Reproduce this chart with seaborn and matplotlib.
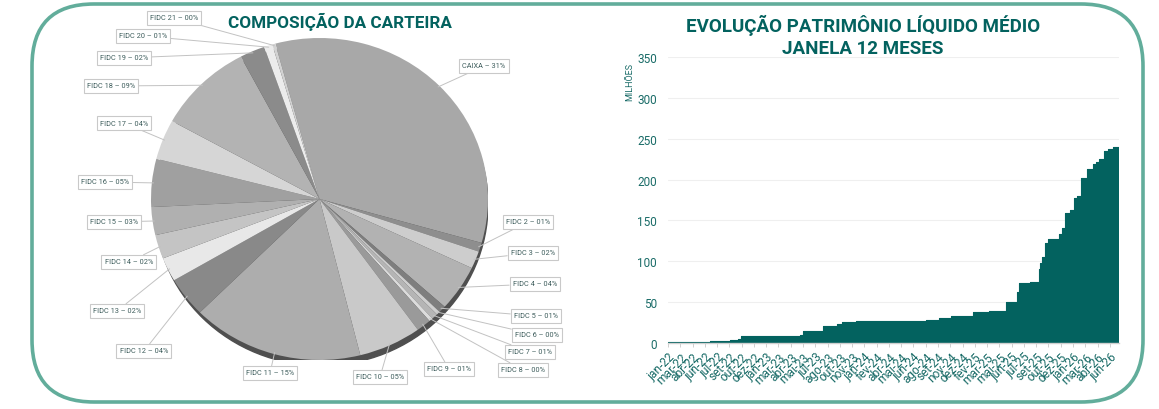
import numpy as np
import pandas as pd
import matplotlib
matplotlib.use("Agg")
import matplotlib.pyplot as plt
from matplotlib.patches import FancyBboxPatch, Ellipse
import seaborn as sns

# ---------------- data ----------------
pie_labels = ["CAIXA – 31%", "FIDC 2 – 01%", "FIDC 3 – 02%", "FIDC 4 – 04%", "FIDC 5 – 01%",
              "FIDC 6 – 00%", "FIDC 7 – 01%", "FIDC 8 – 00%", "FIDC 9 – 01%", "FIDC 10 – 05%",
              "FIDC 11 – 15%", "FIDC 12 – 04%", "FIDC 13 – 02%", "FIDC 14 – 02%", "FIDC 15 – 03%",
              "FIDC 16 – 05%", "FIDC 17 – 04%", "FIDC 18 – 09%", "FIDC 19 – 02%", "FIDC 20 – 01%",
              "FIDC 21 – 00%"]
pie_values = [33.5, 0.9, 1.75, 4.6, 0.7, 0.35, 0.6, 0.35, 1.4, 6.0,
              16.4, 4.0, 2.4, 2.4, 2.8, 4.8, 4.0, 9.2, 2.4, 0.8, 0.3]
pie_colors = ["#a8a8a8", "#8e8e8e", "#cdcdcd", "#b2b2b2", "#7e7e7e",
              "#cfcfcf", "#b5b5b5", "#dcdcdc", "#9a9a9a", "#c9c9c9",
              "#adadad", "#898989", "#e8e8e8", "#c4c4c4", "#b0b0b0",
              "#a0a0a0", "#d6d6d6", "#b3b3b3", "#8b8b8b", "#ececec", "#d2d2d2"]

# months since jan-22 at which the 12-month average PL changes (step start) and its value (millions)
pl_month = [0, 5.0, 7.4, 8.4, 8.8, 13.4, 15.8, 16.2, 18.5, 20.2, 20.8, 22.5, 28.1, 30.9,
            32.5, 33.9, 36.5, 38.4, 40.5, 41.8, 42.0, 43.3, 44.4, 44.6, 44.8, 45.1, 45.5,
            46.8, 47.2, 47.5, 48.1, 48.6, 49.0, 49.5, 50.2, 50.9, 51.3, 51.6, 52.2, 52.7,
            53.3, 54.0]
pl_value = [1.5, 2.2, 3.2, 4.8, 8.0, 8.5, 10.0, 15.0, 20.3, 23.0, 25.5, 26.5, 27.0, 28.0,
            30.5, 33.0, 37.5, 39.5, 50.0, 62.0, 73.5, 75.0, 90.5, 98.5, 105.0, 122.5, 127.5,
            133.5, 141.0, 159.5, 162.5, 177.5, 180.0, 201.5, 213.0, 219.0, 222.0, 225.0,
            235.0, 238.0, 239.5, 239.5]

x_tick_labels = ["jan-22", "mar-22", "abr-22", "jun-22", "jul-22", "set-22", "out-22", "dez-22",
                 "jan-23", "mar-23", "abr-23", "mai-23", "jul-23", "ago-23", "out-23", "nov-23",
                 "jan-24", "fev-24", "abr-24", "mai-24", "jun-24", "ago-24", "set-24", "nov-24",
                 "dez-24", "fev-25", "mar-25", "mai-25", "jun-25", "jul-25", "set-25", "out-25",
                 "dez-25", "jan-26", "mar-26", "abr-26", "jun-26"]
y_ticks = [0, 50, 100, 150, 200, 250, 300, 350]

# ---------------- layout ----------------
W, H = 1159, 410
TEAL = "#03625f"
TEXT_TEAL = "#1a6c68"
FRAME = "#62ad9b"

label_px = [(484, 67), (528, 223), (533, 254), (535, 285), (536, 317), (537, 336), (530, 353),
            (523, 371), (449, 370), (380, 378), (270, 374), (144, 352), (117, 312), (129, 263),
            (114, 223), (105, 183), (124, 124), (111, 87), (124, 59), (143, 37), (174, 19)]

sns.set_style("white")
plt.rcParams["font.family"] = ["Roboto", "DejaVu Sans"]

fig = plt.figure(figsize=(W / 100, H / 100), dpi=100)

bg = fig.add_axes([0, 0, 1, 1], zorder=-1)
bg.set_xlim(0, W)
bg.set_ylim(H, 0)
bg.axis("off")
bg.add_patch(FancyBboxPatch((32, 5), 1111, 398, boxstyle="round,pad=0,rounding_size=62",
                            fill=False, ec=FRAME, lw=2.6))
bg.text(340, 22, "COMPOSIÇÃO DA CARTEIRA", ha="center", va="center", fontsize=12.3,
        fontweight="bold", color=TEAL)
bg.text(863, 25, "EVOLUÇÃO PATRIMÔNIO LÍQUIDO MÉDIO", ha="center", va="center", fontsize=13.5,
        fontweight="bold", color=TEAL)
bg.text(863, 49, "JANELA 12 MESES", ha="center", va="center", fontsize=13.5,
        fontweight="bold", color=TEAL)
bg.text(630, 82, "MILHÕES", ha="center", va="center", rotation=90, fontsize=6.5, color=TEXT_TEAL)

# ---------------- pie ----------------
cx, cy, rx, ry = 319.5, 200, 168.5, 161
axp = fig.add_axes([(cx - rx) / W, (H - cy - ry) / H, 2 * rx / W, 2 * ry / H])
wedges, _ = axp.pie(pie_values, colors=pie_colors, startangle=105.2, counterclock=False,
                    radius=1, wedgeprops=dict(linewidth=0))
axp.set_aspect("auto")
axp.set_xlim(-1, 1)
axp.set_ylim(-1, 1)
axp.add_patch(Ellipse((0.01, -0.035), 1.98, 2, color="#4f4f4f", zorder=0.5))
for w, lab, (lx, ly) in zip(wedges, pie_labels, label_px):
    th = np.deg2rad((w.theta1 + w.theta2) / 2)
    px, py = 0.99 * np.cos(th), 0.99 * np.sin(th)
    tx, ty = (lx - cx) / rx, (cy - ly) / ry
    axp.annotate(lab, xy=(px, py), xytext=(tx, ty), textcoords="data", ha="center", va="center",
                 fontsize=5.3, color="#3f5e5d", annotation_clip=False, zorder=5,
                 bbox=dict(boxstyle="square,pad=0.45", fc="white", ec="#c9c9c9", lw=0.8),
                 arrowprops=dict(arrowstyle="-", color="#c2c2c2", lw=0.7, shrinkA=0, shrinkB=0))

# ---------------- area chart ----------------
ax = fig.add_axes([668 / W, (H - 344) / H, (1119 - 668) / W, (344 - 58) / H])
df = pd.DataFrame({"mes": pl_month, "pl": pl_value})
sns.lineplot(data=df, x="mes", y="pl", ax=ax, drawstyle="steps-post", color=TEAL, lw=0.8)
ax.fill_between(df["mes"], df["pl"], step="post", color=TEAL, lw=0)
ax.set_xlim(0, 54)
ax.set_ylim(0, 350)
ax.set_yticks(y_ticks)
ax.set_yticklabels([str(v) for v in y_ticks])
ax.set_xticks(np.linspace(0, 52.9, len(x_tick_labels)))
ax.set_xticklabels(x_tick_labels, rotation=45, ha="right", rotation_mode="anchor")
ax.set_xlabel("")
ax.set_ylabel("")
ax.grid(axis="y", color="#efefef", lw=0.8)
ax.set_axisbelow(True)
for s in ["top", "right", "left"]:
    ax.spines[s].set_visible(False)
ax.spines["bottom"].set_color("#d0d0d0")
ax.spines["bottom"].set_linewidth(1.0)
ax.tick_params(axis="y", length=0, pad=8, labelsize=8.5, labelcolor=TEXT_TEAL)
ax.tick_params(axis="x", length=3, width=0.6, color="#c8c8c8", pad=2, labelsize=8.6,
               labelcolor=TEXT_TEAL, bottom=True)

fig.savefig("out.png", dpi=100, facecolor="white")
